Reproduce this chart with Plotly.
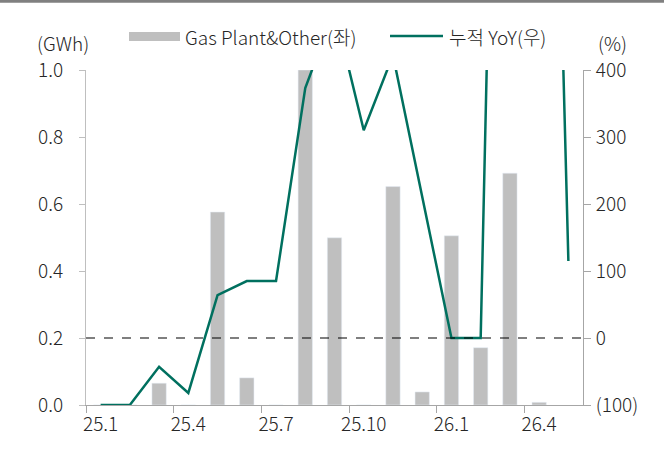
import plotly.graph_objects as go

# ---- data ----
months = ["25.1", "25.2", "25.3", "25.4", "25.5", "25.6", "25.7", "25.8", "25.9",
          "25.10", "25.11", "25.12", "26.1", "26.2", "26.3", "26.4", "26.5"]
gas_plant_other = [0, 0, 0.065, 0, 0.576, 0.081, 0, 1.0, 0.499,
                   0, 0.652, 0.039, 0.505, 0.171, 0.692, 0.008, None]
cum_yoy = [-100, -100, -43, -82, 64, 85, 85, 373, 490,
           310, 422, 210, 0, 0, 1950, 1780, 115]
left_ticks = [0, 0.2, 0.4, 0.6, 0.8, 1.0]
right_ticks = [-100, 0, 100, 200, 300, 400]
right_ticktext = ["(100)", "0", "100", "200", "300", "400"]

FONT = "Noto Sans CJK KR Light, Noto Sans CJK KR"
TXT = "#262626"
BAR_C = "#BFBFBF"
LINE_C = "#00705F"

# plot area in pixels: x 86..583, y 70..405
L, R, T, B = 86, 81, 70, 50
PW, PH = 664 - L - R, 455 - T - B


def px(x):
    return (x - L) / PW


def py(y):
    return (455 - B - y) / PH


fig = go.Figure()
fig.add_trace(go.Bar(x=months, y=gas_plant_other, marker_color=BAR_C,
                     name="Gas Plant&Other(좌)", yaxis="y", showlegend=False))
fig.add_trace(go.Scatter(x=months, y=cum_yoy, mode="lines",
                         line=dict(color=LINE_C, width=2.5),
                         name="누적 YoY(우)", yaxis="y2", showlegend=False))

fig.update_layout(
    width=664, height=455,
    margin=dict(l=L, r=R, t=T, b=B, pad=0),
    paper_bgcolor="white", plot_bgcolor="white",
    font=dict(family=FONT, size=19, color=TXT, weight=300),
    bargap=0.51,
    xaxis=dict(type="category", categoryorder="array", categoryarray=months,
               tickmode="linear", tick0=0, dtick=3, tickson="boundaries",
               tickangle=0, automargin=False, ticklabelstandoff=2,
               showline=True, linecolor="#A6A6A6", linewidth=1,
               ticks="outside", ticklen=7, tickcolor="#A6A6A6",
               showgrid=False, zeroline=False, range=[-0.5, 16.5]),
    yaxis=dict(range=[0, 1], tickmode="array", tickvals=left_ticks,
               tickformat=".1f", showline=True, linecolor="#BFBFBF",
               ticks="outside", ticklen=6, tickcolor="#BFBFBF", automargin=False,
               showgrid=False, zeroline=False, ticklabelstandoff=12),
    yaxis2=dict(range=[-100, 400], overlaying="y", side="right",
                tickmode="array", tickvals=right_ticks, ticktext=right_ticktext,
                showline=True, linecolor="#A6A6A6", ticks="outside", ticklen=7,
                tickcolor="#A6A6A6", showgrid=False, zeroline=False,
                automargin=False, ticklabelstandoff=1),
    shapes=[
        dict(type="line", xref="paper", yref="y2", x0=0, x1=1, y0=0, y1=0,
             line=dict(color="black", width=1.2, dash="dash"), layer="above"),
        dict(type="line", xref="paper", yref="paper", x0=px(0), x1=px(664),
             y0=py(1.2), y1=py(1.2), line=dict(color="#808080", width=3)),
        dict(type="rect", xref="paper", yref="paper", x0=px(129), x1=px(180),
             y0=py(41), y1=py(32), fillcolor=BAR_C, line=dict(width=0)),
        dict(type="line", xref="paper", yref="paper", x0=px(390), x1=px(443),
             y0=py(36), y1=py(36), line=dict(color=LINE_C, width=2.5)),
    ],
    annotations=[
        dict(text="(GWh)", xref="paper", yref="paper", x=px(63), y=py(43),
             showarrow=False, xanchor="center", yanchor="middle", borderpad=0),
        dict(text="(%)", xref="paper", yref="paper", x=px(612), y=py(43),
             showarrow=False, xanchor="center", yanchor="middle", borderpad=0),
        dict(text="Gas Plant&Other(좌)", xref="paper", yref="paper", x=px(183),
             y=py(37), showarrow=False, xanchor="left", yanchor="middle"),
        dict(text="누적 YoY(우)", xref="paper", yref="paper", x=px(447),
             y=py(37), showarrow=False, xanchor="left", yanchor="middle"),
    ],
)

fig.write_html("out.html", config={"displayModeBar": False},
               post_script="document.body.style.margin='0';")
